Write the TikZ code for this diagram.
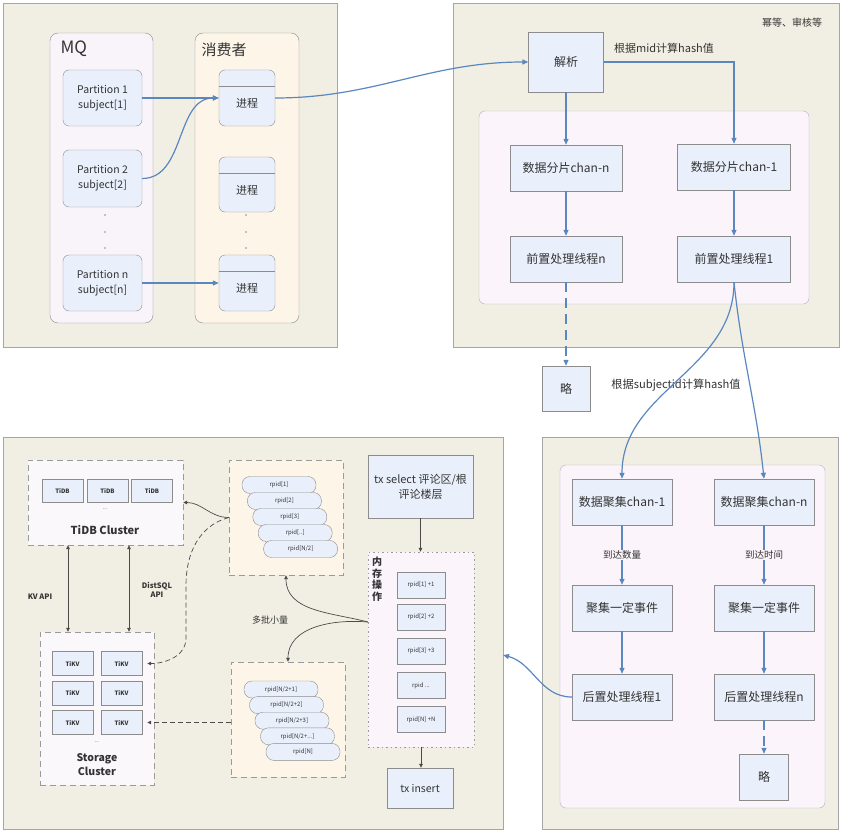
\documentclass[tikz,border=0pt]{standalone}
\usepackage{fontspec}
\setmainfont{Noto Sans CJK SC}
\usetikzlibrary{calc,arrows.meta}

\definecolor{panelbg}{HTML}{F1EFE3}
\definecolor{panelline}{HTML}{A6A6A6}
\definecolor{pinkbg}{HTML}{FCF4FB}
\definecolor{groupline}{HTML}{B9AFC0}
\definecolor{mqbg}{HTML}{F9F4FA}
\definecolor{consbg}{HTML}{FDF5E8}
\definecolor{tidbbg}{HTML}{FBF8FC}
\definecolor{boxfill}{HTML}{EAF0FB}
\definecolor{boxline}{HTML}{8C8C8C}
\definecolor{dashline}{HTML}{9A9A9A}
\definecolor{flowblue}{HTML}{5A87C0}
\definecolor{linkgray}{HTML}{4A4A4A}
\definecolor{textgray}{HTML}{333333}

\begin{document}
\begin{tikzpicture}[x=1pt, y=-1pt, text=textgray,
    sz/.style 2 args={minimum width=#1pt, minimum height=#2pt},
    panel/.style={draw=panelline, fill=panelbg, inner sep=0pt},
    group/.style={draw=groupline, fill=pinkbg, rounded corners=6pt, inner sep=0pt},
    blk/.style={draw=boxline, fill=boxfill, align=center, inner sep=1pt, font=\fontsize{12}{14}\selectfont},
    part/.style={blk, rounded corners=6pt, font=\fontsize{10.5}{15}\selectfont},
    proc/.style={blk, rounded corners=6pt, text height=20pt, text depth=1pt, font=\fontsize{11}{13}\selectfont,
        path picture={\draw[boxline] ([yshift=-16pt]path picture bounding box.north west) -- ([yshift=-16pt]path picture bounding box.north east);}},
    dbox/.style={draw=dashline, dash pattern=on 6pt off 4pt, inner sep=0pt},
    pill/.style={draw=boxline, fill=boxfill, rounded corners=8pt, sz={74}{17}, inner sep=0pt, font=\fontsize{6}{7}\selectfont},
    tiny/.style={draw=boxline, fill=boxfill, inner sep=0pt, font=\bfseries\fontsize{6}{7}\selectfont},
    flow/.style={draw=flowblue, line width=1.2pt, -{Triangle[length=6pt,width=5pt]}},
    link/.style={draw=linkgray, line width=0.7pt, -{Triangle[length=4pt,width=3.5pt]}},
    dlink/.style={draw=linkgray, line width=0.7pt, {Triangle[length=4pt,width=3.5pt]}-{Triangle[length=4pt,width=3.5pt]}},
    note/.style={font=\fontsize{9.5}{11}\selectfont, inner sep=1pt},
    bnote/.style={font=\bfseries\fontsize{7.5}{9}\selectfont, align=center, inner sep=1pt}]
    \useasboundingbox (0,0) rectangle (842,832);

    % panels
    \node[panel, sz={334}{344}] (pTL) at (170,175) {};
    \node[panel, sz={386}{344}] (pTR) at (646,175) {};
    \node[panel, sz={500}{392}] (pBL) at (253,633) {};
    \node[panel, sz={296}{392}] (pBR) at (690,633) {};

    % MQ and consumers
    \node[group, draw=boxline, fill=mqbg, rounded corners=8pt, sz={103}{290}] (mq) at (101.5,178) {};
    \node[group, draw=boxline, fill=consbg, rounded corners=8pt, sz={104}{290}] (cons) at (247,178) {};
    \node[anchor=west, font=\fontsize{17}{17}\selectfont] (mqT) at (57,49) {MQ};
    \node[anchor=west, font=\fontsize{15}{15}\selectfont] (consT) at (198,50) {消费者};
    \node[part, sz={79}{56}] (p1) at (102.5,98) {Partition 1\\subject[1]};
    \node[part, sz={79}{57}] (p2) at (102.5,178.5) {Partition 2\\subject[2]};
    \node[part, sz={79}{56}] (pn) at (102.5,283) {Partition n\\subject[n]};
    \node[proc, sz={56}{56}] (j1) at (247,98) {进程};
    \node[proc, sz={56}{55}] (j2) at (247,184.5) {进程};
    \node[proc, sz={56}{56}] (jn) at (247,283) {进程};
    \foreach \y in {215,232,248} {
        \fill[boxline] (105,\y) circle (0.9pt);
        \fill[boxline] (246,\y) circle (0.9pt);
    }
    \draw[flow] (p1.east) -- (j1.west);
    \draw[flow] (p2.east) to[out=0,in=180] (j1.west);
    \draw[flow] (pn.east) -- (jn.west);

    % parse and shards
    \node[note, font=\fontsize{10}{11}\selectfont] (mideq) at (792,23) {幂等、审核等};
    \node[blk, sz={75}{60}] (jx) at (566,62) {解析};
    \node[group, sz={330}{193}] (grp1) at (644,207.5) {};
    \node[blk, sz={112}{46}] (sn) at (566,168) {数据分片chan-n};
    \node[blk, sz={113}{46}] (s1) at (734,167) {数据分片chan-1};
    \node[blk, sz={112}{46}] (qn) at (566,259) {前置处理线程n};
    \node[blk, sz={113}{46}] (q1) at (734,259) {前置处理线程1};
    \node[blk, sz={48}{45}] (l1) at (566,388.5) {略};
    \draw[flow] (j1.east) to[out=0,in=180] (jx.west);
    \draw[flow] (jx.south) -- (sn.north);
    \draw[flow] (jx.east) -| (s1.north);
    \node[note, font=\fontsize{11}{12}\selectfont] (midT) at (664,48) {根据mid计算hash值};
    \draw[flow] (sn.south) -- (qn.north);
    \draw[flow] (s1.south) -- (s1.south |- q1.north);
    \draw[flow, dash pattern=on 10pt off 6pt] (qn.south) -- (l1.north);
    \node[note, font=\fontsize{11.2}{12}\selectfont] (subT) at (676,385) {根据subjectid计算hash值};

    % aggregation
    \node[group, sz={265}{343}] (grp2) at (692.5,636.5) {};
    \node[blk, sz={100}{46}] (a1) at (622,502) {数据聚集chan-1};
    \node[blk, sz={100}{46}] (an) at (764,502) {数据聚集chan-n};
    \node[blk, sz={100}{46}] (g1) at (622,608) {聚集一定事件};
    \node[blk, sz={100}{46}] (gn) at (764,608) {聚集一定事件};
    \node[blk, sz={100}{46}] (h1) at (622,697) {后置处理线程1};
    \node[blk, sz={100}{46}] (hn) at (764,697) {后置处理线程n};
    \node[blk, sz={49}{46}] (l2) at (764,777) {略};
    \draw[flow] (q1.south) to[out=-90,in=90] (a1.north);
    \draw[flow] (q1.south) to[out=-84,in=96] (an.north);
    \draw[flow] (a1.south) -- (g1.north) node[midway, note, fill=pinkbg] (cntT) {到达数量};
    \draw[flow] (an.south) -- (gn.north) node[midway, note, fill=pinkbg] (timeT) {到达时间};
    \draw[flow] (g1.south) -- (h1.north);
    \draw[flow] (gn.south) -- (hn.north);
    \draw[flow, dash pattern=on 10pt off 6pt] (hn.south) -- (l2.north);
    \coordinate (blin) at (503,655);
    \draw[flow] (h1.west) to[out=180,in=-15] (blin);

    % TiDB / TiKV
    \node[dbox, fill=tidbbg, sz={155}{85}] (tidbC) at (105.5,502.5) {};
    \foreach \i/\x in {1/62.5,2/107.5,3/152}
        \node[tiny, sz={41}{23}] (td\i) at (\x,491) {TiDB};
    \node[font=\fontsize{5}{5}\selectfont] (tdDots) at (105,509) {...};
    \node[font=\bfseries\fontsize{11}{12}\selectfont] (tidbT) at (105,530) {TiDB Cluster};
    \node[dbox, fill=tidbbg, sz={114}{153}] (stor) at (97,708.5) {};
    \foreach \r/\y in {1/663.5,2/693,3/722.5} {
        \node[tiny, sz={41}{24}] (tka\r) at (72.5,\y) {TiKV};
        \node[tiny, sz={41}{24}] (tkb\r) at (121.5,\y) {TiKV};
    }
    \node[font=\fontsize{5}{5}\selectfont] (tkDots) at (97,742) {...};
    \node[font=\bfseries\fontsize{10.5}{14}\selectfont, align=center] (storT) at (97,765) {Storage\\Cluster};
    \draw[dlink] ([xshift=-37.5pt]tidbC.south) -- ([xshift=-37.5pt]tidbC.south |- stor.north);
    \draw[dlink] ([xshift=23.5pt]tidbC.south) -- ([xshift=23.5pt]tidbC.south |- stor.north);
    \node[bnote] (kvT) at (40,597) {KV API};
    \node[bnote] (dsT) at (157,590) {DistSQL\\API};

    % rpid batches
    \node[dbox, fill=consbg, sz={114}{115}] (rpA) at (286,517.5) {};
    \foreach \i/\t in {0/{rpid[1]},1/{rpid[2]},2/{rpid[3]},3/{rpid[..]},4/{rpid[N/2]}}
        \node[pill] (ra\i) at ({279+5.4*\i},{485+16*\i}) {\t};
    \node[dbox, fill=consbg, sz={114}{115}] (rpB) at (288,719.5) {};
    \foreach \i/\t in {0/{rpid[N/2+1]},1/{rpid[N/2+2]},2/{rpid[N/2+3]},3/{rpid[N/2+...]},4/{rpid[N]}}
        \node[pill] (rb\i) at ({281+5.5*\i},{689.5+15.6*\i}) {\t};

    % transaction
    \node[blk, sz={105}{63}, font=\fontsize{11}{15}\selectfont] (txs) at (420.5,486.5) {tx select 评论区/根\\评论楼层};
    \node[draw=dashline, dash pattern=on 1.5pt off 3pt, fill=pinkbg, inner sep=0pt, sz={106}{195}] (mem) at (421,649.5) {};
    \node[font=\bfseries\fontsize{10}{11.5}\selectfont, align=center, inner sep=0pt] (memT) at (377,579) {内\\存\\操\\作};
    \foreach \i/\y/\t in {1/585/{rpid[1] +1},2/617/{rpid[2] +2},3/651/{rpid[3] +3},4/685.5/{rpid ...},5/719.5/{rpid[N] +N}}
        \node[blk, sz={48}{26}, font=\fontsize{6}{7}\selectfont] (m\i) at (421,\y) {\t};
    \node[blk, sz={66}{40}, font=\fontsize{10.5}{12}\selectfont] (txi) at (420,788) {tx insert};
    \draw[link] (txs.south) -- (txs.south |- mem.north);
    \draw[link] (mem.south) -- (mem.south |- txi.north);
    \coordinate (fork) at ([yshift=27.5pt]mem.west);
    \draw[link] (fork) to[out=165,in=-90] (rpA.south);
    \draw[link] (fork) to[out=175,in=90] (rpB.north);
    \node[font=\fontsize{9}{10}\selectfont] (batchT) at (270,620) {多批小量};
    \draw[link] (rpA.west) to[out=180,in=0] (tidbC.east);
    \draw[link, dash pattern=on 5pt off 3pt] (rpA.west) to[out=195,in=90] (186,585) -- (186,638) to[out=-90,in=0] ([xshift=5pt]tkb1.east);
    \draw[link, dash pattern=on 5pt off 3pt] (rpB.west |- tkb3.east) -- ([xshift=5pt]tkb3.east);
\end{tikzpicture}
\end{document}
